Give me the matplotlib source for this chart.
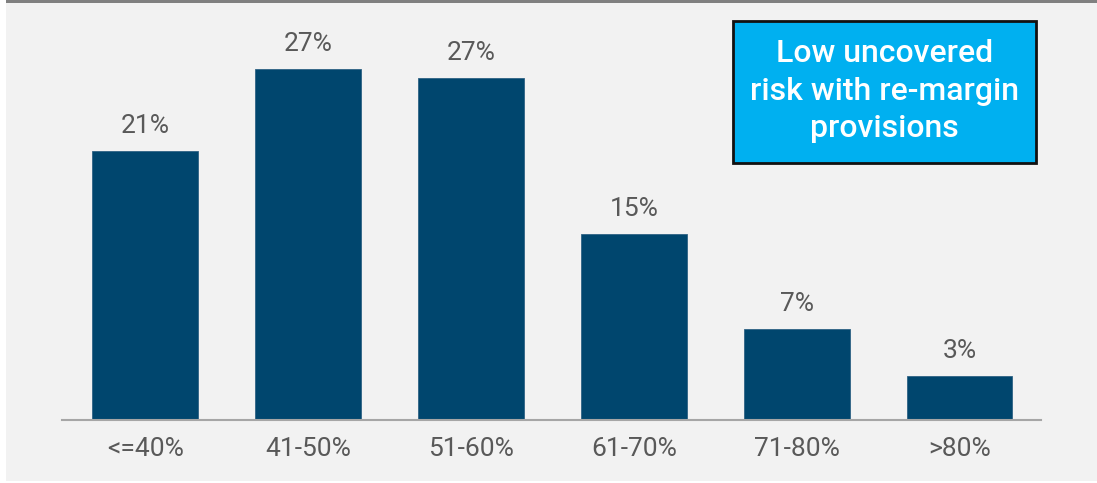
import matplotlib.pyplot as plt
from matplotlib.patches import Rectangle

plt.rcParams["font.family"] = ["Roboto", "DejaVu Sans"]

# data
categories = ["<=40%", "41-50%", "51-60%", "61-70%", "71-80%", ">80%"]
values = [21.0, 27.4, 26.7, 14.5, 7.1, 3.4]
value_labels = ["21%", "27%", "27%", "15%", "7%", "3%"]
note_text = "Low uncovered\nrisk with re-margin\nprovisions"

W, H = 1097, 483
fig = plt.figure(figsize=(W / 100, H / 100), dpi=100, facecolor="white")


def fx(px):
    return px / W


def fy(py):
    # py measured from the top of the image
    return 1 - py / H


# gray panel and top rule
fig.patches.append(Rectangle((fx(6), fy(481)), fx(W - 6), (478) / H,
                             transform=fig.transFigure, facecolor="#f2f2f2",
                             edgecolor="none", zorder=-10))
fig.patches.append(Rectangle((fx(6), fy(3)), fx(W - 6), 3 / H,
                             transform=fig.transFigure, facecolor="#808080",
                             edgecolor="none", zorder=-10))

ax = fig.add_axes([fx(62), fy(420), fx(979), 400 / H])
ax.set_facecolor("none")

x = range(len(categories))
ax.bar(x, values, width=0.65, color="#00466e", edgecolor="#2f6284",
       linewidth=0.6, zorder=2)

for i, (v, lab) in enumerate(zip(values, value_labels)):
    ax.annotate(lab, (i, v), xytext=(0, 13), textcoords="offset points",
                ha="center", va="baseline", fontsize=19, color="#595959")

ax.set_xlim(-0.51, 5.5)
ax.set_ylim(0, 31.25)
ax.set_xticks(list(x))
ax.set_xticklabels(categories, fontsize=19, color="#595959")
ax.tick_params(axis="x", length=0, pad=12.5)
ax.set_yticks([])
for s in ["top", "right", "left"]:
    ax.spines[s].set_visible(False)
ax.spines["bottom"].set_color("#a6a6a6")
ax.spines["bottom"].set_linewidth(1.5)

# callout box
fig.patches.append(Rectangle((fx(733), fy(163)), fx(303), 142 / H,
                             transform=fig.transFigure, facecolor="#00b0f0",
                             edgecolor="#111111", linewidth=2, zorder=3))
fig.text(fx(884.5), fy(91), note_text, ha="center", va="center",
         fontsize=23, color="white", fontweight="medium",
         linespacing=1.38, zorder=4)

plt.savefig("out.png", dpi=100, facecolor=fig.get_facecolor())
